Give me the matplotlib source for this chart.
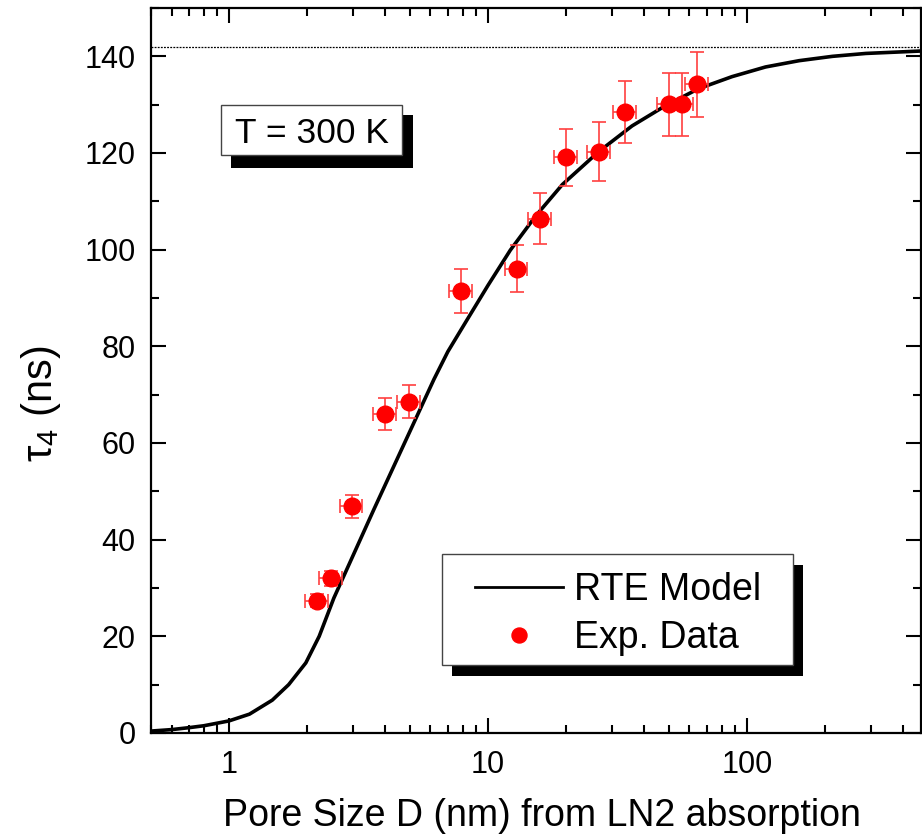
import matplotlib
matplotlib.use('Agg')
import matplotlib.pyplot as plt
from matplotlib import font_manager
from matplotlib.patches import Rectangle
from matplotlib.ticker import LogLocator, MultipleLocator, FuncFormatter

# RTE model curve
model_d = [0.5, 0.6, 0.7, 0.8, 1.0, 1.2, 1.47, 1.7, 1.98, 2.23, 2.54, 3.63, 6.19,
           7.0, 8.33, 10.0, 12.2, 15.3, 19.4, 26.8, 36.0, 48.5, 65.0, 87.6, 118,
           159, 214, 288, 470]
model_tau = [0.4, 0.7, 1.1, 1.5, 2.5, 3.9, 6.8, 10.0, 14.5, 20.0, 27.9, 46.3, 73.2,
             78.9, 85.6, 92.6, 99.9, 107.0, 113.5, 120.3, 125.6, 129.8, 133.3, 135.8, 137.8,
             139.1, 140.0, 140.6, 141.1]

# experimental points
exp_d = [2.19, 2.48, 2.98, 4.0, 4.95, 7.87, 12.9, 15.9, 20.0, 26.8, 33.8, 50.0, 56.1, 64.1]
exp_tau = [27.4, 32.0, 46.9, 66.0, 68.5, 91.5, 96.1, 106.4, 119.1, 120.3, 128.4, 130.1, 130.1, 134.2]
exp_d_err = [0.1 * d for d in exp_d]
exp_tau_err = [0.05 * t for t in exp_tau]

tau_limit = 142

names = {f.name for f in font_manager.fontManager.ttflist}
tick_font = 'Liberation Sans Narrow' if 'Liberation Sans Narrow' in names else 'Liberation Sans'

plt.rcParams['font.family'] = ['Liberation Sans', 'DejaVu Sans']
plt.rcParams['mathtext.fontset'] = 'custom'
plt.rcParams['mathtext.rm'] = 'Liberation Sans'
plt.rcParams['mathtext.it'] = 'Liberation Sans'

W, H = 922, 839
fig = plt.figure(figsize=(W / 100, H / 100), dpi=100)
ax_l, ax_r, ax_t, ax_b = 151, 921, 8, 733
ax = fig.add_axes([ax_l / W, 1 - ax_b / H, (ax_r - ax_l) / W, (ax_b - ax_t) / H])


def fx(px):
    return (px - ax_l) / (ax_r - ax_l)


def fy(py):
    return (ax_b - py) / (ax_b - ax_t)


ax.set_xscale('log')
ax.set_xlim(0.5, 470)
ax.set_ylim(0, 150)

ax.axhline(tau_limit, color='black', lw=0.9, ls=(0, (1.5, 1)), zorder=1)
ax.plot(model_d, model_tau, color='black', lw=2.6, label='RTE Model', zorder=3)
ax.errorbar(exp_d, exp_tau, xerr=exp_d_err, yerr=exp_tau_err, fmt='none',
            ecolor='#ff4040', elinewidth=1.2, capsize=5, capthick=1.2, zorder=4)
ax.plot(exp_d, exp_tau, 'o', color='#ff0000', markersize=12, label='Exp. Data', zorder=5)

# ticks
ax.xaxis.set_major_locator(LogLocator(base=10, numticks=10))
ax.xaxis.set_minor_locator(LogLocator(base=10, subs=range(2, 10), numticks=20))
ax.xaxis.set_major_formatter(FuncFormatter(lambda v, p: f'{v:g}'))
ax.xaxis.set_minor_formatter(FuncFormatter(lambda v, p: ''))
ax.yaxis.set_major_locator(MultipleLocator(20))
ax.yaxis.set_minor_locator(MultipleLocator(10))
ax.tick_params(which='both', direction='in', top=True, right=True, width=1.5)
ax.tick_params(which='major', length=11)
ax.tick_params(which='minor', length=6)
ax.tick_params(axis='y', which='major', pad=11)
ax.tick_params(axis='x', which='major', pad=12)
for lab in ax.get_xticklabels() + ax.get_yticklabels():
    lab.set_fontfamily(tick_font)
    lab.set_fontsize(22)
for s in ax.spines.values():
    s.set_linewidth(1.6)

ax.set_xlabel('Pore Size D (nm) from LN2 absorption', fontsize=27)
ax.set_ylabel(r'$\tau_4$ (ns)', fontsize=30)
ax.xaxis.set_label_coords(fx(542), fy(798))
ax.yaxis.set_label_coords(fx(63), fy(404))

# T = 300 K box with drop shadow
ax.add_patch(Rectangle((fx(231), fy(168)), fx(413) - fx(231), fy(115) - fy(168),
                       transform=ax.transAxes, facecolor='black', edgecolor='none', zorder=6))
ax.add_patch(Rectangle((fx(221), fy(155)), fx(402) - fx(221), fy(105) - fy(155),
                       transform=ax.transAxes, facecolor='white', edgecolor='#444444', lw=1, zorder=7))
ax.text(fx(311.5), fy(143), 'T = 300 K', transform=ax.transAxes, ha='center', va='baseline',
        fontsize=25.5, zorder=8)

# legend frame with drop shadow
ax.add_patch(Rectangle((fx(452), fy(676)), fx(803) - fx(452), fy(565) - fy(676),
                       transform=ax.transAxes, facecolor='black', edgecolor='none', zorder=6))
ax.add_patch(Rectangle((fx(442), fy(665)), fx(793) - fx(442), fy(554) - fy(665),
                       transform=ax.transAxes, facecolor='white', edgecolor='#444444', lw=1, zorder=7))
leg = ax.legend(loc='upper left', bbox_to_anchor=(fx(475), fy(572)), frameon=False,
                fontsize=27, borderpad=0, borderaxespad=0, handlelength=2.35,
                handletextpad=0.3, labelspacing=0.32, markerscale=0.9)
leg.set_zorder(9)
leg.get_lines()[0].set_linewidth(2.0)

fig.savefig('out.png', dpi=100)
